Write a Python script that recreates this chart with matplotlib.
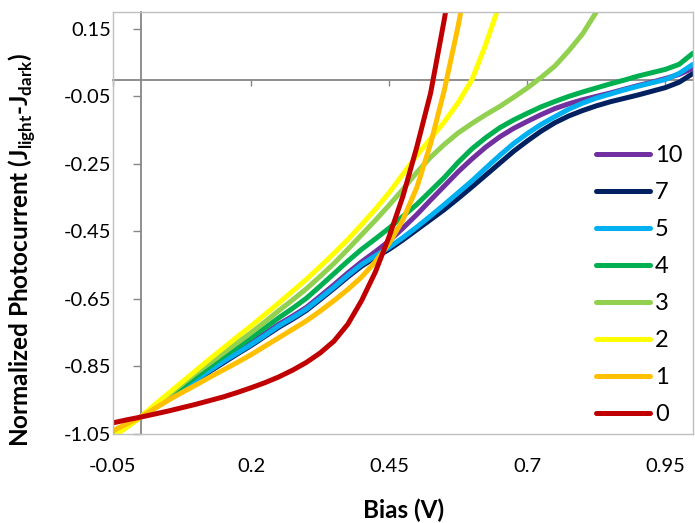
import numpy as np
import matplotlib
matplotlib.use("Agg")
import matplotlib.pyplot as plt

plt.rcParams['font.family'] = ['Lato', 'DejaVu Sans']
plt.rcParams['mathtext.fontset'] = 'custom'
plt.rcParams['mathtext.bf'] = 'Lato:bold'
plt.rcParams['mathtext.rm'] = 'Lato:bold'

# bias points (V)
bias = [-0.05, -0.025, 0.0, 0.025, 0.05, 0.075, 0.1, 0.125, 0.15, 0.175, 0.2,
        0.225, 0.25, 0.275, 0.3, 0.325, 0.35, 0.375, 0.4, 0.425, 0.45,
        0.475, 0.5, 0.525, 0.55, 0.575, 0.6, 0.625, 0.65, 0.675, 0.7,
        0.725, 0.75, 0.775, 0.8, 0.825, 0.85, 0.875, 0.9, 0.925, 0.95,
        0.975, 1.0]

# normalized photocurrent for each sample
j10 = [-1.05, -1.025, -1.0, -0.969, -0.94, -0.913, -0.886, -0.858, -0.83, -0.805, -0.78,
       -0.753, -0.725, -0.701, -0.675, -0.642, -0.608, -0.573, -0.54, -0.51, -0.478,
       -0.44, -0.40, -0.357, -0.315, -0.273, -0.235, -0.2, -0.17, -0.145, -0.124,
       -0.104, -0.086, -0.072, -0.06, -0.05, -0.04, -0.029, -0.018, -0.008, 0.003,
       0.015, 0.034]
j7 = [-1.05, -1.026, -1.0, -0.973, -0.946, -0.919, -0.893, -0.865, -0.839, -0.813, -0.788,
      -0.761, -0.734, -0.71, -0.684, -0.652, -0.619, -0.585, -0.553, -0.527, -0.503,
      -0.475, -0.445, -0.415, -0.385, -0.352, -0.318, -0.283, -0.248, -0.213, -0.182,
      -0.153, -0.128, -0.108, -0.092, -0.078, -0.066, -0.056, -0.046, -0.035, -0.024,
      -0.008, 0.018]
j5 = [-1.05, -1.025, -1.0, -0.971, -0.943, -0.916, -0.89, -0.862, -0.835, -0.81, -0.785,
      -0.758, -0.73, -0.706, -0.68, -0.648, -0.615, -0.58, -0.548, -0.522, -0.497,
      -0.468, -0.437, -0.404, -0.37, -0.335, -0.30, -0.262, -0.225, -0.19, -0.16,
      -0.133, -0.11, -0.088, -0.07, -0.055, -0.043, -0.031, -0.02, -0.01, 0.0,
      0.018, 0.045]
j4 = [-1.055, -1.028, -1.0, -0.97, -0.94, -0.91, -0.88, -0.85, -0.82, -0.793, -0.765,
      -0.736, -0.706, -0.678, -0.648, -0.612, -0.575, -0.538, -0.503, -0.472, -0.44,
      -0.405, -0.37, -0.33, -0.29, -0.245, -0.205, -0.172, -0.143, -0.12, -0.1,
      -0.081, -0.065, -0.05, -0.037, -0.025, -0.013, -0.002, 0.01, 0.02, 0.03,
      0.045, 0.078]
j3 = [-1.055, -1.028, -1.0, -0.967, -0.935, -0.902, -0.87, -0.84, -0.81, -0.78, -0.75,
      -0.718, -0.685, -0.653, -0.62, -0.583, -0.545, -0.503, -0.46, -0.417, -0.372,
      -0.325, -0.275, -0.23, -0.192, -0.158, -0.13, -0.104, -0.08, -0.053, -0.025,
      0.006, 0.04, 0.085, 0.135, 0.2, 0.27]
j2 = [-1.06, -1.03, -1.0, -0.964, -0.93, -0.896, -0.862, -0.828, -0.795, -0.762, -0.73,
      -0.696, -0.662, -0.627, -0.592, -0.554, -0.515, -0.474, -0.43, -0.384, -0.335,
      -0.28, -0.225, -0.175, -0.125, -0.068, 0.0, 0.105, 0.225]
j1 = [-1.04, -1.02, -1.0, -0.975, -0.95, -0.927, -0.905, -0.882, -0.86, -0.838, -0.815,
      -0.79, -0.765, -0.74, -0.715, -0.686, -0.655, -0.622, -0.585, -0.54, -0.485,
      -0.415, -0.32, -0.19, -0.03, 0.16, 0.38]
j0 = [-1.017, -1.008, -1.0, -0.991, -0.982, -0.972, -0.962, -0.951, -0.94, -0.927, -0.913,
      -0.898, -0.881, -0.861, -0.838, -0.81, -0.775, -0.725, -0.655, -0.57, -0.465,
      -0.345, -0.2, -0.04, 0.18, 0.42]

names = ["10", "7", "5", "4", "3", "2", "1", "0"]
values = [j10, j7, j5, j4, j3, j2, j1, j0]
colors = ["#7030A0", "#002060", "#00B0F0", "#00B050",
          "#92D050", "#FFFF00", "#FFC000", "#C00000"]

xticks = [-0.05, 0.2, 0.45, 0.7, 0.95]
xlabels = ["-0.05", "0.2", "0.45", "0.7", "0.95"]
yticks = [-1.05, -0.85, -0.65, -0.45, -0.25, -0.05, 0.15]
ylabels = ["-1.05", "-0.85", "-0.65", "-0.45", "-0.25", "-0.05", "0.15"]

fig = plt.figure(figsize=(6.95, 5.23), dpi=100)
ax = fig.add_axes([113/695, 89/523, 580/695, 422/523])

for name, y, c in zip(names, values, colors):
    ax.plot(bias[:len(y)], y, color=c, lw=3.6, label=name,
            solid_joinstyle='round', solid_capstyle='round')

ax.set_xlim(-0.05, 1.0)
ax.set_ylim(-1.05, 0.2)
ax.set_xticks(xticks, xlabels)
ax.set_yticks(yticks, ylabels)
ax.tick_params(length=0, labelsize=14.5, colors='black')
ax.tick_params(axis='y', pad=1)
ax.tick_params(axis='x', pad=17)
for s in ax.spines.values():
    s.set_color('#BFBFBF')
    s.set_linewidth(1.0)

# axis lines crossing at zero
gray = '#868686'
sx = ax.secondary_xaxis(0, transform=ax.transData)
sx.set_xticks(xticks)
sx.tick_params(direction='out', length=4, width=1, color=gray, labelbottom=False)
sx.spines['bottom'].set_color(gray)
sx.spines['bottom'].set_linewidth(1.3)
sy = ax.secondary_yaxis(0, transform=ax.transData)
sy.set_yticks(yticks)
sy.tick_params(direction='out', length=6, width=1, color=gray, labelleft=False)
sy.spines['left'].set_color(gray)
sy.spines['left'].set_linewidth(1.3)

fig.text(404/695, 1 - 510/523, "Bias (V)", ha='center', va='center',
         fontsize=17.5, fontweight='bold')
fig.text(22/695, 1 - 250/523,
         r"Normalized Photocurrent (J$_{\mathbf{light}}$-J$_{\mathbf{dark}}$)",
         rotation=90, ha='center', va='center', fontsize=17.5, fontweight='bold')

ax.legend(loc='center left', bbox_to_anchor=(596/695, 1 - 285/523),
          bbox_transform=fig.transFigure, frameon=False, fontsize=17,
          handlelength=2.3, handletextpad=0.2, labelspacing=0.68,
          borderaxespad=0, borderpad=0)

fig.savefig("out.png", dpi=100)
